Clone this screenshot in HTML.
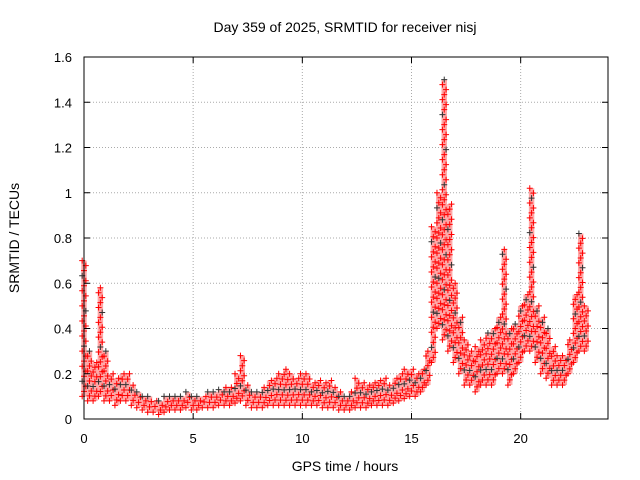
<!DOCTYPE html>
<html><head><meta charset="utf-8"><style>
body{margin:0;background:#fff;}
svg{display:block;font-family:"Liberation Sans",sans-serif;}
</style></head><body>
<svg id="chart" width="640" height="480">
<text x="345" y="32" font-size="14" text-anchor="middle">Day 359 of 2025, SRMTID for receiver nisj</text>
<text x="345" y="471" font-size="14" text-anchor="middle">GPS time / hours</text>
<text x="0" y="0" font-size="14" text-anchor="middle" transform="translate(19,238) rotate(-90)">SRMTID / TECUs</text>
<g id="grid"></g><g id="marks"></g><g id="axes"></g>
</svg>
<script>
const xTicks=[0,5,10,15,20];
const yTicks=[0,0.2,0.4,0.6,0.8,1,1.2,1.4,1.6];
const yTickLabels=["0","0.2","0.4","0.6","0.8","1","1.2","1.4","1.6"];
const times=[0,0.25,0.5,0.75,1,1.25,1.5,1.75,2,2.25,2.5,2.75,3,3.25,3.5,3.75,4,4.25,4.5,4.75,5,5.25,5.5,5.75,6,6.25,6.5,6.75,7,7.25,7.5,7.75,8,8.25,8.5,8.75,9,9.25,9.5,9.75,10,10.25,10.5,10.75,11,11.25,11.5,11.75,12,12.25,12.5,12.75,13,13.25,13.5,13.75,14,14.25,14.5,14.75,15,15.25,15.5,15.75,16,16.25,16.5,16.75,17,17.25,17.5,17.75,18,18.25,18.5,18.75,19,19.25,19.5,19.75,20,20.25,20.5,20.75,21,21.25,21.5,21.75,22,22.25,22.5,22.75,23];
const lows=[0.1,0.08,0.08,0.1,0.08,0.08,0.06,0.08,0.08,0.06,0.05,0.04,0.03,0.03,0.02,0.03,0.04,0.04,0.04,0.05,0.04,0.04,0.05,0.05,0.05,0.06,0.06,0.06,0.07,0.08,0.06,0.05,0.05,0.05,0.06,0.06,0.06,0.06,0.06,0.06,0.06,0.06,0.06,0.06,0.05,0.05,0.05,0.04,0.04,0.04,0.05,0.05,0.05,0.06,0.06,0.06,0.06,0.07,0.08,0.09,0.1,0.1,0.12,0.15,0.25,0.4,0.35,0.3,0.25,0.2,0.15,0.15,0.12,0.15,0.15,0.15,0.2,0.2,0.15,0.2,0.25,0.3,0.3,0.25,0.2,0.18,0.15,0.15,0.15,0.2,0.25,0.3,0.3];
const highs=[0.7,0.3,0.25,0.58,0.3,0.2,0.18,0.2,0.2,0.15,0.12,0.1,0.1,0.08,0.08,0.1,0.1,0.1,0.1,0.12,0.1,0.1,0.1,0.12,0.12,0.13,0.14,0.14,0.2,0.28,0.15,0.12,0.12,0.14,0.17,0.18,0.2,0.22,0.2,0.18,0.2,0.2,0.16,0.17,0.16,0.17,0.14,0.12,0.1,0.12,0.18,0.16,0.15,0.16,0.17,0.18,0.15,0.18,0.2,0.22,0.22,0.2,0.22,0.3,0.85,1.0,1.5,0.95,0.6,0.45,0.35,0.3,0.32,0.35,0.38,0.4,0.45,0.75,0.4,0.42,0.5,0.55,1.02,0.5,0.45,0.4,0.32,0.28,0.28,0.35,0.55,0.82,0.5];
const X0=84,X1=608,Y0=419,Y1=57;
const xs=h=>X0+h*(X1-X0)/24;
const ys=v=>Y0-v*(Y0-Y1)/1.6;
const NS="http://www.w3.org/2000/svg";
function mk(t,a,p){const e=document.createElementNS(NS,t);for(const k in a)e.setAttribute(k,a[k]);p.appendChild(e);return e;}
const grid=document.getElementById('grid'),marks=document.getElementById('marks'),axes=document.getElementById('axes');
xTicks.forEach((t,i)=>{
 if(t>0){const g=mk('line',{x1:xs(t),x2:xs(t),y1:Y1,y2:Y0,stroke:'#aaa','stroke-dasharray':'1,2'},grid);
 
 }
 const l=mk('text',{x:xs(t),y:Y0+24,'font-size':13,'text-anchor':'middle'},axes);l.textContent=t;
 
 
 mk('line',{x1:xs(t),x2:xs(t),y1:Y0,y2:Y0-6,stroke:'#000'},axes);
 mk('line',{x1:xs(t),x2:xs(t),y1:Y1,y2:Y1+6,stroke:'#000'},axes);
});
yTicks.forEach((t,i)=>{
 if(t>0&&t<1.6){const g=mk('line',{x1:X0,x2:X1,y1:ys(t),y2:ys(t),stroke:'#aaa','stroke-dasharray':'1,2'},grid);
 
 }
 const l=mk('text',{x:X0-12,y:ys(t)+5,'font-size':13,'text-anchor':'end'},axes);l.textContent=yTickLabels[i];
 
 
 mk('line',{x1:X0,x2:X0+6,y1:ys(t),y2:ys(t),stroke:'#000'},axes);
 mk('line',{x1:X1,x2:X1-6,y1:ys(t),y2:ys(t),stroke:'#000'},axes);
});
const fr=mk('rect',{x:X0,y:Y1,width:X1-X0,height:Y0-Y1,fill:'none',stroke:'#000'},axes);


function plus(x,y,c){const p=mk('path',{d:`M${x-3},${y}h6M${x},${y-3}v6`,stroke:c,'stroke-width':1},marks);
 
 }
const bw=(X1-X0)/24*0.25;
times.forEach((t,i)=>{
 const r=mk('rect',{x:xs(t)-bw/2,y:ys(highs[i]),width:bw,height:Math.max(2,ys(lows[i])-ys(highs[i])),fill:'#f00','fill-opacity':0.35},marks);
 
 
 const n=Math.max(2,Math.round((ys(lows[i])-ys(highs[i]))/5));
 for(let k=0;k<=n;k++){
  const v=lows[i]+(highs[i]-lows[i])*k/n;
  const dx=(k%3-1)*bw/3;
  plus(xs(t)+dx,ys(v),k%7===3?'#333':'#f00');
 }
});
</script>
</body></html>
